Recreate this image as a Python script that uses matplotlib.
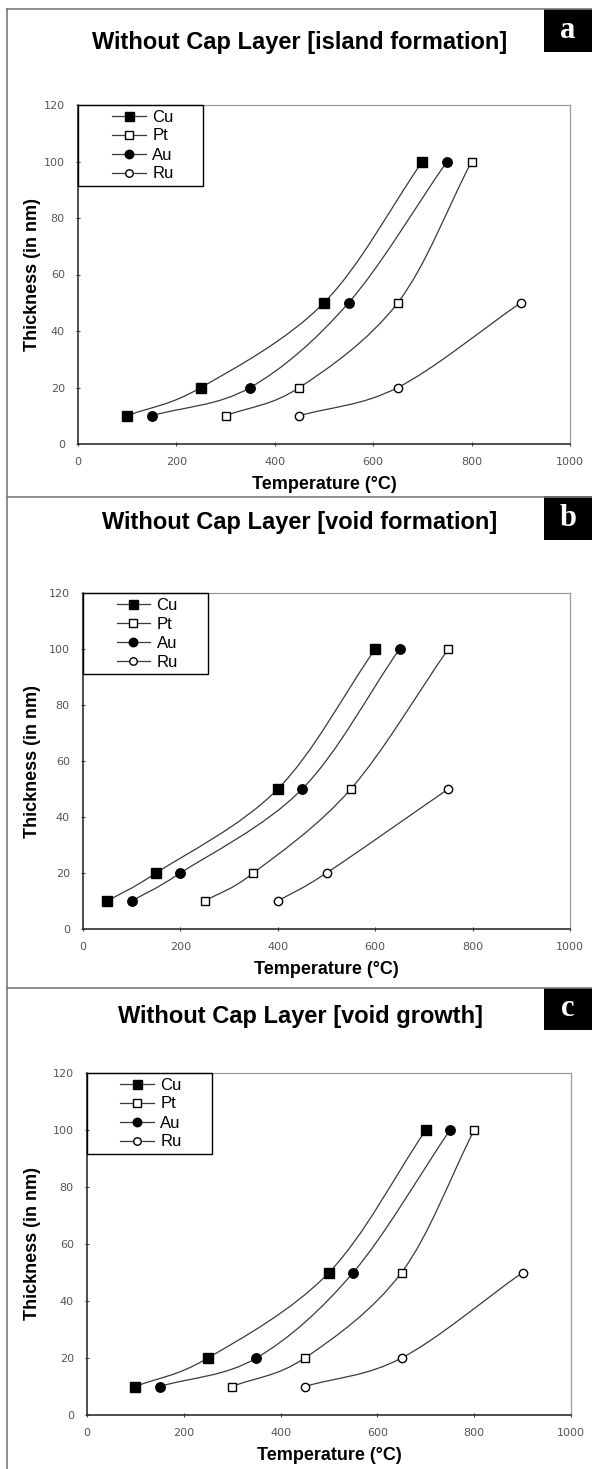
import matplotlib
matplotlib.use("Agg")
import matplotlib.pyplot as plt
import numpy as np
from matplotlib.path import Path
from matplotlib.patches import PathPatch, Rectangle
from matplotlib.lines import Line2D

plt.rcParams["font.family"] = ["Liberation Sans", "DejaVu Sans"]

W, H = 592, 1469

metals = ["Cu", "Pt", "Au", "Ru"]

# panel a: island formation
a_temp = {
    "Cu": [100, 250, 500, 700],
    "Pt": [300, 450, 650, 800],
    "Au": [150, 350, 550, 750],
    "Ru": [450, 650, 900],
}
a_thick = {
    "Cu": [10, 20, 50, 100],
    "Pt": [10, 20, 50, 100],
    "Au": [10, 20, 50, 100],
    "Ru": [10, 20, 50],
}

# panel b: void formation
b_temp = {
    "Cu": [50, 150, 400, 600],
    "Pt": [250, 350, 550, 750],
    "Au": [100, 200, 450, 650],
    "Ru": [400, 500, 750],
}
b_thick = a_thick

# panel c: void growth
c_temp = {
    "Cu": [100, 250, 500, 700],
    "Pt": [300, 450, 650, 800],
    "Au": [150, 350, 550, 750],
    "Ru": [450, 650, 900],
}
c_thick = a_thick

titles = [
    "Without Cap Layer [island formation]",
    "Without Cap Layer [void formation]",
    "Without Cap Layer [void growth]",
]
letters = ["a", "b", "c"]

styles = {
    "Cu": dict(marker="s", mfc="black", mec="black", ms=7.2),
    "Pt": dict(marker="s", mfc="white", mec="black", ms=6.4, mew=1.0),
    "Au": dict(marker="o", mfc="black", mec="black", ms=6.8),
    "Ru": dict(marker="o", mfc="white", mec="black", ms=6.0, mew=1.0),
}

# pixel boxes: (left, right, top, bottom) for the axes
axes_px = [(78, 570, 105, 444), (83, 570, 593, 929), (87, 571, 1073, 1415)]
panel_top = [9, 497, 988]
title_base = [49, 529, 1023]
box_px = [(544, 9, 52), (544, 496, 540), (544, 988, 1030)]


def smooth_path(x, y):
    # Catmull-Rom through the data points, drawn as cubic bezier
    p = np.column_stack([x, y]).astype(float)
    n = len(p)
    tang = np.zeros_like(p)
    tang[0] = p[1] - p[0]
    tang[-1] = p[-1] - p[-2]
    for i in range(1, n - 1):
        tang[i] = (p[i + 1] - p[i - 1]) / 2
    verts = [p[0]]
    codes = [Path.MOVETO]
    for i in range(n - 1):
        verts += [p[i] + tang[i] / 3, p[i + 1] - tang[i + 1] / 3, p[i + 1]]
        codes += [Path.CURVE4] * 3
    return Path(verts, codes)


fig = plt.figure(figsize=(W / 100, H / 100), dpi=100)

# panel frame lines
for yt in panel_top:
    fig.add_artist(Line2D([7 / W, 1], [1 - yt / H] * 2, color="#7a7a7a", lw=1.2))
fig.add_artist(Line2D([7 / W] * 2, [1 - 9 / H, 0], color="#7a7a7a", lw=1.2))

datasets = [(a_temp, a_thick), (b_temp, b_thick), (c_temp, c_thick)]

for k, (temps, thicks) in enumerate(datasets):
    l, r, t, b = axes_px[k]
    ax = fig.add_axes([l / W, 1 - b / H, (r - l) / W, (b - t) / H])
    for m in metals:
        x, y = temps[m], thicks[m]
        ax.add_patch(PathPatch(smooth_path(x, y), fc="none", ec="#3a3a3a", lw=0.9, zorder=2))
        ax.plot(x, y, ls="none", label=m, zorder=3, **styles[m])
    ax.set_xlim(0, 1000)
    ax.set_ylim(0, 120)
    ax.set_xticks(np.arange(0, 1001, 200))
    ax.set_yticks(np.arange(0, 121, 20))
    ax.tick_params(labelsize=8, labelcolor="#555555", length=3, width=0.8,
                   direction="inout", color="#444444", pad=8)
    for lab in ax.get_xticklabels() + ax.get_yticklabels():
        lab.set_family("DejaVu Sans")
    for s in ["top", "right"]:
        ax.spines[s].set_color("#9a9a9a")
        ax.spines[s].set_linewidth(0.9)
    for s in ["left", "bottom"]:
        ax.spines[s].set_color("#303030")
        ax.spines[s].set_linewidth(1.2)
    ax.set_xlabel("Temperature (°C)", fontsize=13, fontweight="bold", labelpad=6)
    ax.set_ylabel("Thickness (in nm)", fontsize=13, fontweight="bold")
    ax.yaxis.set_label_coords((41 - l) / (r - l), 0.5)

    # legend with its own frame
    handles = [Line2D([], [], color="#3a3a3a", lw=0.9, **{**styles[m], "ms": styles[m]["ms"] * 0.9})
               for m in metals]
    ax.legend(handles, metals, loc="center",
              bbox_to_anchor=(0.132, 1 - 40.5 / (b - t)),
              frameon=False, fontsize=12, handlelength=2.0, handletextpad=0.4,
              labelspacing=0.24, borderpad=0.0)
    ax.add_patch(Rectangle((0, 1 - 81 / (b - t)), 125 / (r - l), 81 / (b - t),
                           transform=ax.transAxes, fc="none", ec="black", lw=1.0,
                           clip_on=False, zorder=5))

    fig.text(300 / W, 1 - title_base[k] / H, titles[k], ha="center", va="baseline",
             fontsize=17, fontweight="bold")

    bx, by0, by1 = box_px[k]
    fig.add_artist(Rectangle((bx / W, 1 - by1 / H), (W - bx) / W, (by1 - by0) / H,
                             transform=fig.transFigure, fc="black", ec="none"))
    fig.text((bx + W) / 2 / W, 1 - (by0 + by1) / 2 / H, letters[k], ha="center", va="center",
             color="white", fontsize=22, family="Liberation Serif", fontweight="bold")

fig.savefig("out.png", dpi=100)
